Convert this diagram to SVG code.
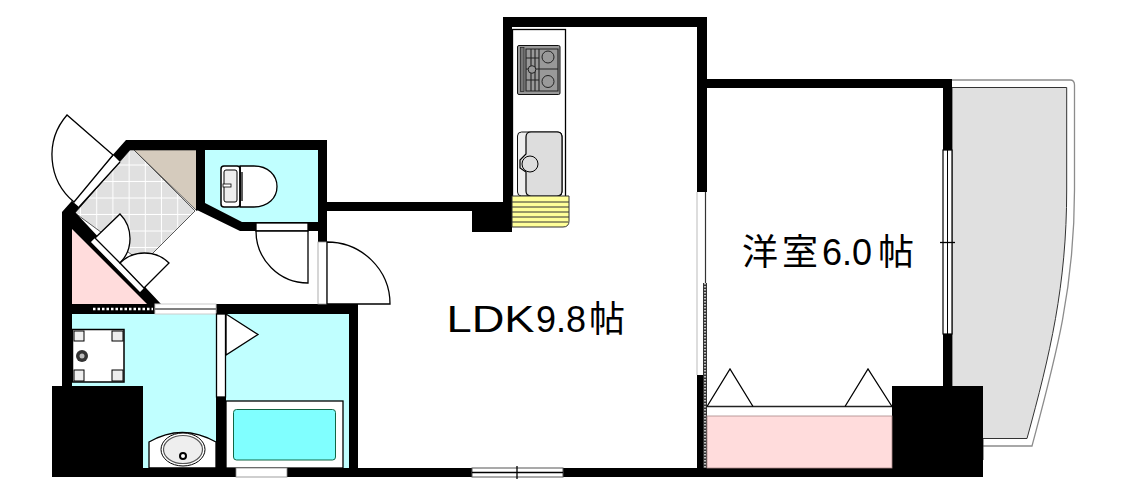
<svg xmlns="http://www.w3.org/2000/svg" width="1122" height="503" viewBox="0 0 1122 503">
<style>
.w{fill:#000}
.l{fill:none;stroke:#000;stroke-width:1.3}
.d{fill:#fff;stroke:#000;stroke-width:1.3}
.o{fill:#fff}
.aq{fill:#c0ffff}
.t{font-family:"Liberation Sans","Noto Sans CJK JP",sans-serif;font-size:36px;fill:#000}
</style>
<defs>
<pattern id="tile" x="81" y="149" width="16.2" height="16.5" patternUnits="userSpaceOnUse">
<rect width="16.2" height="16.5" fill="#e0e0e0"/>
<rect x="15.2" width="1.2" height="16.5" fill="#fff"/>
<rect y="15.5" width="16.2" height="1.2" fill="#fff"/>
</pattern>
</defs>
<rect width="1122" height="503" fill="#fff"/>
<g id="balcony">
<path d="M952 80H1070Q1074.500 80 1074.500 85V190C1074.500 290 1055 360 1032 446H983" fill="#fff" stroke="#8c8c8c" stroke-width="1.300"/>
<path d="M952 87.500H1066.700V190C1066.700 285 1050 355 1027 438.500H983V460H952Z" fill="#e0e0e0" stroke="#333" stroke-width="1"/>
</g>
<g id="entrance">
<path d="M134 150L195 211L152 254L143 263L75 213L130 150Z" fill="url(#tile)" stroke="#333" stroke-width=".8"/>
<path d="M134 150H197V211Z" fill="#d5cbbd" stroke="#333" stroke-width=".8"/>
</g>
<g id="storage-triangle"><path d="M72 229V304H148Z" fill="#ffdcdc"/></g>
<g id="toilet-room">
<path d="M205 150H318V222H242L205 204Z" class="aq"/>
<g>
<path d="M240 166H254C268 166 277 175 277 186.500C277 198 268 207 254 207H240Z" class="d"/>
<rect x="221" y="166" width="19" height="41" rx="3" fill="#fff" stroke="#000" stroke-width="1.500"/>
<rect x="224" y="170" width="13" height="32" rx="2" fill="#eee" stroke="#000" stroke-width="1"/>
<rect x="223" y="184" width="8" height="3" fill="#fff" stroke="#000" stroke-width=".8"/>
<path d="M240 166V207M242 172V201" class="l"/>
</g>
</g>
<g id="washroom">
<rect x="72" y="314" width="144" height="154" class="aq"/>
<rect x="72.500" y="329.500" width="51.500" height="52.500" fill="#fff" stroke="#000" stroke-width="1.500"/>
<g fill="#eee" stroke="#000" stroke-width="1">
<rect x="74" y="331" width="10" height="10"/><rect x="112" y="331" width="11" height="10"/><rect x="74" y="370" width="10" height="11"/><rect x="112" y="370" width="11" height="11"/>
</g>
<circle cx="82" cy="356" r="6" fill="#333"/><circle cx="82" cy="356" r="2.500" fill="#bbb"/>
<path d="M149 468V442Q182 423 216 442V468Z" class="d"/>
<ellipse cx="183" cy="449.500" rx="22" ry="16.500" fill="#fff" stroke="#000" stroke-width="1"/>
<ellipse cx="183" cy="449.500" rx="19.500" ry="14" fill="#eee" stroke="#555" stroke-width="1.200"/>
<circle cx="183" cy="456" r="3" fill="#fff" stroke="#000" stroke-width="2"/>
</g>
<g id="bathroom">
<rect x="226" y="314" width="123" height="154" class="aq"/>
<path d="M226 314L258 334.500L226 355Z" class="d"/>
<rect x="226" y="401" width="117" height="67" class="d"/>
<rect x="233.500" y="409.500" width="102" height="50.500" rx="3" fill="#80ffff" stroke="#164" stroke-width="1"/>
</g>
<g id="walls">
<rect class="w" x="126" y="140" width="201" height="10"/>
<rect class="w" x="196" y="140" width="9" height="70"/>
<rect class="w" x="318" y="140" width="9" height="102"/>
<path class="w" d="M196 203H205L242 222H318V231H240L197 210Z"/>
<rect class="w" x="327" y="202" width="160" height="9"/>
<path class="w" d="M126 140L136 150H130L75 213L72 215L62 215V212Z"/>
<path class="w" d="M62 215L74 211L161 304H147L72 229V386H62Z"/>
<rect class="w" x="62" y="304" width="95" height="10"/>
<rect class="w" x="215" y="304" width="143" height="10"/>
<rect class="w" x="349" y="304" width="9" height="173"/>
<rect class="w" x="216" y="314" width="10" height="163"/>
<rect class="w" x="52" y="386" width="91" height="91"/>
<rect class="w" x="143" y="468" width="840" height="9"/>
<rect class="w" x="892" y="386" width="91" height="91"/>
<rect class="w" x="503" y="17" width="9" height="190"/>
<rect class="w" x="503" y="17" width="204" height="10"/>
<rect class="w" x="697" y="17" width="10" height="175"/>
<rect class="w" x="472" y="202" width="40" height="30"/>
<rect class="w" x="707" y="79" width="245" height="9"/>
<rect class="w" x="943" y="79" width="9" height="310"/>
<rect class="w" x="697" y="375" width="10" height="95"/>
</g>
<g id="openings">
<path d="M113 155L120 162L79 207L72 201Z" class="o"/>
<path d="M113 155L72 201M120 162L79 207" class="l"/>
<path d="M90 242L95 237L145 288L140 293Z" class="d"/>
<rect x="256" y="223" width="52" height="8" class="d" stroke-width="1"/>
<rect x="318" y="242" width="9" height="62" class="o" stroke="#999" stroke-width=".8"/>
<rect x="155" y="304" width="61" height="10" fill="#fff" stroke="#ccc" stroke-width="1"/>
<rect x="155" y="308" width="61" height="2" fill="#808080"/>
<path d="M93 309H153" fill="none" stroke="#fff" stroke-width="2.500" stroke-dasharray="2.500 2"/>
<rect x="216.500" y="314" width="9" height="83" class="d"/>
<rect x="236" y="468" width="51" height="9" fill="#fff" stroke="#888" stroke-width=".8"/>
<rect x="472" y="468" width="91" height="9" fill="#fff" stroke="#555" stroke-width="1"/>
<path d="M472 472.500H563M517 466V479" class="l"/>
<rect x="697" y="192" width="9" height="183" fill="#fff"/>
<path d="M697 192V375" stroke="#bbb" stroke-width="1" fill="none"/>
<path d="M705.500 192V283" stroke="#333" stroke-width="1.200" fill="none"/>
<rect x="703" y="283" width="4" height="185" fill="#333"/>
<path d="M705 283V468" stroke="#fff" stroke-width="1.400" stroke-dasharray="1.500 1.500" fill="none"/>
<rect x="943" y="150" width="9" height="184" fill="#fff" stroke="#000" stroke-width="1.200"/>
<path d="M947.500 150V334" stroke="#000" stroke-width="1" fill="none"/>
<path d="M940 242.500H955" class="l"/>
</g>
<g id="doors">
<path d="M113 155L67 115A61 61 0 0 0 74 202Z" class="d"/>
<path d="M95 238L120 214A35 35 0 0 1 120 263Z" class="d"/>
<path d="M144 288L169 263A35 35 0 0 0 120 263Z" class="d"/>
<path d="M308 231V283A52 52 0 0 1 256 231Z" class="d"/>
<path d="M327 304H390A63 62 0 0 0 327 242Z" class="d"/>
</g>
<g id="kitchen">
<rect x="512.500" y="29.500" width="53" height="170" class="d" stroke-width="1"/>
<rect x="517.500" y="45.500" width="42.500" height="49" rx="1.500" fill="#999" stroke="#111" stroke-width="1"/>
<rect x="520.500" y="47.500" width="3.500" height="44" fill="#777" stroke="#222" stroke-width=".7"/>
<path d="M526 49H558V91H526ZM539 49V91M526 69H558M531 49V91M535 49V91M526 58H539M526 80H539" fill="none" stroke="#222" stroke-width="1.100"/>
<circle cx="548" cy="57" r="6" fill="#999" stroke="#222"/>
<circle cx="548" cy="81.500" r="6" fill="#999" stroke="#222"/>
<circle cx="532" cy="69.500" r="3.800" fill="#999" stroke="#222"/>
<rect x="517.500" y="132" width="44.500" height="64" rx="4" fill="#eee" stroke="#111" stroke-width="1"/>
<path d="M526 137Q526 132 531 132H557Q562 132 562 137V191Q562 196 557 196H531Q526 196 526 191V172L520 168V160L526 154Z" fill="#ddd" stroke="#000" stroke-width="1.200"/>
<circle cx="530" cy="164" r="8" fill="#ddd" stroke="#000" stroke-width="1"/>
<path d="M512 196H569V221Q569 227 563 227H512Z" fill="#ffff99" stroke="#333" stroke-width="1"/>
<path d="M512 202H569M512 207H569M512 212H569M512 217H569M512 222H568" fill="none" stroke="#333" stroke-width="1"/>
</g>
<g id="bedroom-closet">
<rect x="707" y="407" width="185" height="9" class="o"/>
<rect x="707" y="416" width="185" height="52" fill="#ffdcdc" stroke="#a88" stroke-width=".8"/>
<path d="M707 406.500H892" stroke="#222" stroke-width="1.400" fill="none"/>
<path d="M707 406.500L730 369L753 406.500M845 406.500L868 369L892 406.500" class="l"/>
</g>
<g id="labels">
<text class="t" x="446.500" y="332" textLength="88" lengthAdjust="spacingAndGlyphs">LDK</text>
<text class="t" x="536" y="332">9.8</text>
<text class="t" x="589" y="332">帖</text>
<text class="t" x="742 782 822 842 852 878" y="265">洋室6.0帖</text>
</g>
</svg>
